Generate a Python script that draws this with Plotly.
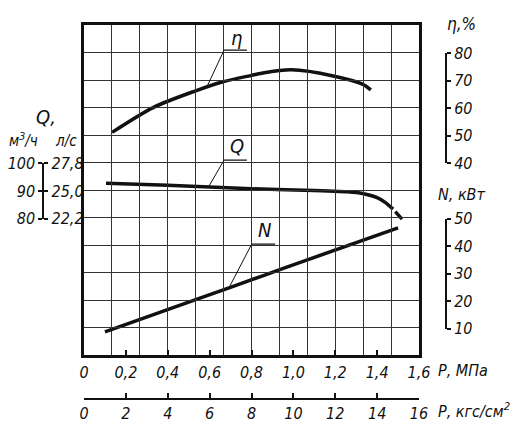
import plotly.graph_objects as go

# ── Data ──────────────────────────────────────────────────────
# pressure P, MPa  /  efficiency eta, %
p_eta = [0.134, 0.33, 0.53, 0.66, 0.80, 0.85, 0.99, 1.19, 1.33, 1.37]
eta   = [51.0, 60.0, 66.0, 69.3, 71.7, 72.5, 73.7, 71.5, 68.5, 66.4]

# pressure P, MPa  /  flow Q, m3/h
p_q = [0.105, 0.40, 0.80, 1.05, 1.26, 1.33, 1.40, 1.44, 1.476]
q   = [92.5, 91.8, 90.5, 90.0, 89.4, 88.8, 87.3, 85.5, 83.1]
p_q_end = [1.487, 1.519]          # dashed tail
q_end   = [82.2, 79.5]

# pressure P, MPa  /  power N, kW
p_n = [0.10, 0.53, 0.85, 1.06, 1.50]
n   = [8.5, 20.1, 28.8, 34.5, 46.3]

mpa_ticks = [0, 0.2, 0.4, 0.6, 0.8, 1.0, 1.2, 1.4, 1.6]
mpa_text  = ["0", "0,2", "0,4", "0,6", "0,8", "1,0", "1,2", "1,4", "1,6"]
kgf_ticks = [0, 2, 4, 6, 8, 10, 12, 14, 16]
eta_ticks = [40, 50, 60, 70, 80]
n_ticks   = [10, 20, 30, 40, 50]
q_ticks   = [80, 90, 100]
q_ls_text = ["22,2", "25,0", "27,8"]

# ── Page geometry (px) ────────────────────────────────────────
W, H = 524, 432
def fx(x): return x / W
def fy(y): return 1 - y / H

INK = "#111"
GRIDC = "#333"
FAM = "DejaVu Sans Condensed, DejaVu Sans"
FONT = dict(family=FAM, size=15, color=INK, style="italic")
TF = dict(family=FAM, size=16, color=INK, style="italic")
X0, X1, Y0, Y1 = 84, 419, 25, 355.3
XD = [fx(X0), fx(X1)]
YD = [fy(Y1), fy(Y0)]

fig = go.Figure()
fig.add_trace(go.Scatter(x=p_eta, y=eta, yaxis="y2", mode="lines",
    line=dict(color=INK, width=3.5, shape="spline", smoothing=0.8)))
fig.add_trace(go.Scatter(x=p_q, y=q, yaxis="y3", mode="lines",
    line=dict(color=INK, width=3.5, shape="spline", smoothing=0.6)))
fig.add_trace(go.Scatter(x=p_q_end, y=q_end, yaxis="y3", mode="lines",
    line=dict(color=INK, width=3.5)))
fig.add_trace(go.Scatter(x=p_n, y=n, yaxis="y", mode="lines",
    line=dict(color=INK, width=3.5, shape="spline", smoothing=0.3)))

hidden = dict(showgrid=False, showticklabels=False, showline=False,
              zeroline=False, ticks="", automargin=False)
scale = dict(ticks="outside", ticklen=4, tickwidth=1.5, tickcolor=INK,
             showline=True, linecolor=INK, linewidth=2, showgrid=False,
             zeroline=False, tickfont=TF, automargin=False)

fig.update_layout(
    template="none",
    width=W, height=H, margin=dict(l=0, r=0, t=0, b=0, pad=0),
    paper_bgcolor="white", plot_bgcolor="rgba(0,0,0,0)", showlegend=False,
    font=FONT,
    # grid + frame
    xaxis=dict(domain=XD, range=[0, 1.6], dtick=1.6 / 12, tick0=0,
               showgrid=True, gridcolor=GRIDC, gridwidth=1.2,
               showticklabels=False, ticks="", zeroline=False, automargin=False,
               showline=True, linecolor=INK, linewidth=2.5, mirror=True),
    yaxis=dict(domain=YD, range=[0, 120], dtick=10, tick0=0,
               showgrid=True, gridcolor=GRIDC, gridwidth=1.2,
               showticklabels=False, ticks="", zeroline=False, automargin=False,
               showline=True, linecolor=INK, linewidth=2.5, mirror=True),
    yaxis2=dict(overlaying="y", range=[-30, 90], **hidden),
    yaxis3=dict(overlaying="y", range=[30, 150], **hidden),
    # MPa scale
    xaxis2=dict(overlaying="x", anchor="y", side="bottom", range=[0, 1.6],
                tickvals=mpa_ticks, ticktext=mpa_text, ticks="inside",
                ticklen=5, tickwidth=1.5, tickcolor=INK, showgrid=False,
                zeroline=False, showline=False, ticklabelstandoff=6,
                tickfont=TF, automargin=False),
    # kgf/cm2 scale
    xaxis3=dict(domain=XD, anchor="free", position=fy(398.7), range=[0, 16],
                tickvals=kgf_ticks, **{**scale, "ticks": "inside", "ticklen": 5}),
    # eta scale (right)
    yaxis4=dict(domain=[fy(163.3), fy(53.3)], anchor="free", position=fx(446),
                side="right", range=[40, 80], tickvals=eta_ticks, **scale),
    # N scale (right)
    yaxis5=dict(domain=[fy(328.7), fy(218.7)], anchor="free", position=fx(446),
                side="right", range=[10, 50], tickvals=n_ticks, **scale),
    # Q scale (left): m3/h on the left, l/s on the right
    yaxis6=dict(domain=[fy(218.7), fy(163.3)], anchor="free", position=fx(43.3),
                side="left", range=[80, 100], tickvals=q_ticks, **scale),
    yaxis7=dict(domain=[fy(218.7), fy(163.3)], anchor="free", position=fx(43.3),
                side="right", range=[80, 100], tickvals=q_ticks,
                ticktext=q_ls_text, **{**scale, "showline": False}),
)

# dummy traces so the free scale axes get drawn
for ax in ["x3", "x2"]:
    fig.add_trace(go.Scatter(x=[None], y=[None], xaxis=ax, yaxis="y",
                             hoverinfo="skip"))
for ax in ["y4", "y5", "y6", "y7"]:
    fig.add_trace(go.Scatter(x=[None], y=[None], xaxis="x", yaxis=ax,
                             hoverinfo="skip"))

# ── Curve labels with leader lines ───────────────────────────
def leader(yref, x_tip, y_tip, x_a, x_b, y_shelf, label, y_lab):
    fig.add_shape(type="line", xref="x", yref=yref, x0=x_tip, y0=y_tip,
                  x1=x_a, y1=y_shelf, line=dict(color=INK, width=1))
    fig.add_shape(type="line", xref="x", yref=yref, x0=x_a, y0=y_shelf,
                  x1=x_b, y1=y_shelf, line=dict(color=INK, width=1.2))
    fig.add_annotation(xref="x", yref=yref, x=(x_a + x_b) / 2 + 0.005, y=y_lab,
                       text=label, showarrow=False,
                       font=dict(family=FAM, size=20, color=INK, style="italic"))

leader("y2", 0.588, 67.7, 0.669, 0.778, 80.9, "η", 85.2)
leader("y3", 0.597, 91.5, 0.669, 0.778, 100.9, "Q", 106.2)
leader("y", 0.697, 25.2, 0.801, 0.913, 40.4, "N", 45.6)

# ── Scale titles ──────────────────────────────────────────────
def txt(x, y, s, size=16, xanchor="center"):
    fig.add_annotation(xref="paper", yref="paper", x=fx(x), y=fy(y), text=s,
                       showarrow=False, xanchor=xanchor, yanchor="middle",
                       font=dict(family=FAM, size=size, color=INK, style="italic"))

txt(46, 117, "Q,", size=20)
txt(23, 140, "м<sup>3</sup>/ч", size=15)
txt(66, 141, "л/с", size=15)
txt(461, 24, "η,%", size=17)
txt(461, 194, "N, кВт", size=16)
txt(436, 370, "Р, МПа", size=16, xanchor="left")
txt(436, 410, "Р, кгс/см<sup>2</sup>", size=16, xanchor="left")

# page body has a default margin; drop it so the figure sits at (0, 0)
fig.write_html("out.html", config={"displayModeBar": False},
               post_script="document.body.style.margin='0px';")
